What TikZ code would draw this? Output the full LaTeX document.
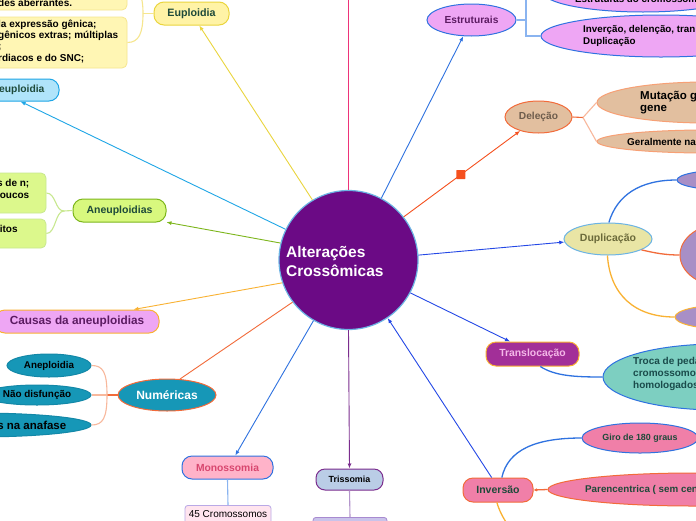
\documentclass[tikz,border=0pt]{standalone}
\usepackage{fontspec}
\setmainfont{Liberation Sans}
\usetikzlibrary{shapes.geometric,arrows.meta}
\definecolor{cPurple}{HTML}{6B0A85}
\definecolor{cCircB}{HTML}{6CB4E4}
\definecolor{cDkGreen}{HTML}{1E4A3A}
\definecolor{cYel}{HTML}{EAD53E}
\definecolor{cYelL}{HTML}{F6E68E}
\definecolor{cYelFill}{HTML}{FFF3A6}
\definecolor{cYelBox}{HTML}{FFF6B4}
\definecolor{cLBlue}{HTML}{1FA6E6}
\definecolor{cLBlueFill}{HTML}{B0E4FA}
\definecolor{cGreen}{HTML}{7DB61C}
\definecolor{cGreenL}{HTML}{C8E890}
\definecolor{cGreenFill}{HTML}{D8F87E}
\definecolor{cGreenBox}{HTML}{DCF88C}
\definecolor{cOrange}{HTML}{F9B233}
\definecolor{cViolet}{HTML}{EEA6F4}
\definecolor{cVioText}{HTML}{5C1B62}
\definecolor{cRed}{HTML}{F26B3A}
\definecolor{cRedL}{HTML}{F8B89C}
\definecolor{cTeal}{HTML}{1697B7}
\definecolor{cTealB}{HTML}{1488A8}
\definecolor{cBlue}{HTML}{2F72E0}
\definecolor{cBlue2}{HTML}{2448E6}
\definecolor{cBlueL}{HTML}{8AB4F0}
\definecolor{cMonFill}{HTML}{FFB3C9}
\definecolor{cMonText}{HTML}{D8476F}
\definecolor{cM45Fill}{HTML}{FFE4EE}
\definecolor{cM45B}{HTML}{B9A9E6}
\definecolor{cPurp}{HTML}{7B2D8E}
\definecolor{cPurpL}{HTML}{B496CC}
\definecolor{cTriFill}{HTML}{BACDE6}
\definecolor{cT2Fill}{HTML}{C9C3EA}
\definecolor{cT2B}{HTML}{A88AD0}
\definecolor{cPink}{HTML}{F07FA8}
\definecolor{cPinkLine}{HTML}{EE3379}
\definecolor{cTransFill}{HTML}{A22F98}
\definecolor{cTransText}{HTML}{F4B8E8}
\definecolor{cTealL}{HTML}{7DCFC1}
\definecolor{cTealText}{HTML}{1A4B4B}
\definecolor{cDupFill}{HTML}{E9E5A5}
\definecolor{cDupText}{HTML}{6B6A3A}
\definecolor{cLav}{HTML}{A88FC6}
\definecolor{cTan}{HTML}{E2BF9F}
\definecolor{cTanText}{HTML}{6E5D4D}
\definecolor{cTanB}{HTML}{F7A075}
\definecolor{cSq}{HTML}{F5501E}
\begin{document}
\begin{tikzpicture}[x=1pt,y=-1pt,
  fs/.style={font=\bfseries\fontsize{#1}{#1}\selectfont},
  rbox/.style={rounded corners=10pt, draw, line width=1pt, inner sep=0pt},
  ell/.style={ellipse, draw, line width=1pt, inner sep=0pt},
  conn/.style={line width=0.9pt},
  br/.style={line width=1.1pt},
  tip/.style={-{Latex[length=5pt,width=4pt]}}
]
\useasboundingbox (0,0) rectangle (696,520);
\clip (0,0) rectangle (696,520);
\fill[white] (0,0) rectangle (696,520);

% ---------- nodes ----------
\node[circle, fill=cPurple, draw=cCircB, line width=1.2pt, minimum size=139pt, inner sep=0pt] (c) at (348.5,260) {};
\node[anchor=west, text=white, inner sep=0pt, fs=15.5] (ctext1) at (286,253.5) {Alterações};
\node[anchor=west, text=white, inner sep=0pt, fs=15.5] (ctext2) at (286,270.5) {Crossômicas};

% Euploidia
\node[rbox, fill=cYelFill, draw=cYel, minimum width=75pt, minimum height=23pt, text=cDkGreen, fs=10.7] (eup) at (191.5,13.5) {Euploidia};
\node[draw=cYelL, fill=cYelBox, rounded corners=5pt, minimum width=134pt, minimum height=52pt, line width=0.8pt] (b1) at (60,-16) {};
\node[draw=cYelL, fill=cYelBox, rounded corners=5pt, minimum width=134pt, minimum height=51pt, line width=0.8pt] (b2) at (60,42.5) {};
\node[anchor=west, fs=10, inner sep=0pt] (b1t) at (-2,2.5) {des aberrantes.};
\node[anchor=north west, align=left, font=\bfseries\fontsize{10}{11.4}\selectfont, inner sep=0pt] (b2t) at (-2,19.5) {la expressão gênica;\\gênicos extras; múltiplas\\;\\rdiacos e do SNC;};

% euploidia (left)
\node[rbox, fill=cLBlueFill, draw=cLBlue, minimum width=122pt, minimum height=22pt] (eub) at (-2,90) {};
\node[anchor=west, fs=10.3, text=cDkGreen, inner sep=0pt] (eubt) at (-1,90) {euploidia};

% Aneuploidias
\node[rbox, fill=cGreenFill, draw=cGreen, minimum width=93pt, minimum height=23pt, text=cDkGreen, fs=10.5] (an) at (119.5,210.5) {Aneuploidias};
\node[draw=cGreenL, fill=cGreenBox, rounded corners=5pt, minimum width=132pt, minimum height=40pt, line width=0.8pt] (g1) at (-20,193) {};
\node[draw=cGreenL, fill=cGreenBox, rounded corners=5pt, minimum width=132pt, minimum height=29pt, line width=0.8pt] (g2) at (-20,233.5) {};
\node[anchor=east, align=right, font=\bfseries\fontsize{10}{11.5}\selectfont, inner sep=0pt] (g1t) at (29.5,189) {s de n;\\oucos};
\node[anchor=east, fs=10, inner sep=0pt] (g2t) at (17.8,228.5) {itos};

% Causas
\node[rbox, fill=cViolet, draw=cOrange, minimum width=164pt, minimum height=23pt, text=cVioText, fs=11.8] (cau) at (77,321.5) {Causas da aneuploidias};

% Numericas
\node[ell, fill=cTeal, draw=cRed, minimum width=98pt, minimum height=32pt, text=white, fs=12] (num) at (167,395) {Numéricas};
\node[ell, fill=cTeal, draw=cTealB, minimum width=84pt, minimum height=23pt, fs=9.8] (anp) at (49,365.5) {Aneploidia};
\node[ell, fill=cTeal, draw=cTealB, minimum width=108pt, minimum height=20pt, fs=9.9] (nd) at (37,395) {Não disfunção};
\node[ell, fill=cTeal, draw=cTealB, minimum width=230pt, minimum height=24pt] (na) at (-24,425) {};
\node[anchor=east, fs=11.5, inner sep=0pt] (nat) at (66.5,425) {s na anafase};

% Monossomia / Trissomia
\node[rbox, fill=cMonFill, draw=cBlue, minimum width=91pt, minimum height=23pt, text=cMonText, fs=10.3] (mon) at (227.5,467.5) {Monossomia};
\node[draw=cM45B, fill=cM45Fill, rounded corners=3pt, minimum width=86pt, minimum height=30pt, anchor=north, line width=0.8pt] (m45) at (228,505) {};
\node[font=\fontsize{10}{12}\selectfont, inner sep=0pt] (m45t) at (228,514) {45 Cromossomos};
\node[rbox, rounded corners=9pt, fill=cTriFill, draw=cPurp, minimum width=67pt, minimum height=21pt, fs=8.9] (tri) at (349.5,479.5) {Trissomia};
\node[draw=cT2B, fill=cT2Fill, rounded corners=3pt, minimum width=74pt, minimum height=20pt, anchor=north, line width=0.8pt] (t2) at (350,517) {};

% Inversao
\node[rbox, fill=cPink, draw=cRed, minimum width=70pt, minimum height=24pt, text=cDkGreen, fs=10.5] (inv) at (498,490) {Inversão};
\node[ell, fill=cPink, draw=cBlue, minimum width=116pt, minimum height=30pt, text=cDkGreen, fs=8.9] (giro) at (640,438) {Giro de 180 graus};
\node[ell, fill=cPink, draw=cRed, minimum width=290pt, minimum height=33pt] (par) at (693,489.5) {};
\node[anchor=west, fs=9.8, text=cDkGreen, inner sep=0pt] (part) at (585,490) {Parencentrica ( sem cen};

% Translocacao
\node[rbox, fill=cTransFill, draw=cOrange, minimum width=93pt, minimum height=24pt, text=cTransText, fs=10.4] (trans) at (532.5,354) {Translocação};
\node[ell, fill=cTealL, draw=cBlue, minimum width=230pt, minimum height=66pt] (teal) at (718,377) {};
\node[anchor=west, align=left, text=cTealText, font=\bfseries\fontsize{10}{12}\selectfont, inner sep=0pt] (tealt) at (633,374) {Troca de peda\\cromossomo\\homologados};

% Duplicacao
\node[ell, fill=cDupFill, draw=cCircB, minimum width=88pt, minimum height=32pt, text=cDupText, fs=10.5] (dup) at (608,239) {Duplicação};
\node[ell, fill=cLav, draw=cBlue, minimum width=100pt, minimum height=20pt] (p1) at (727,180) {};
\node[ell, fill=cLav, draw=cRed, minimum width=90pt, minimum height=64pt] (p2) at (725,255) {};
\node[ell, fill=cLav, draw=cOrange, minimum width=100pt, minimum height=24pt] (p3) at (725,317) {};

% Delecao
\node[ell, fill=cTan, draw=cRed, minimum width=67pt, minimum height=32pt, text=cTanText, fs=10.2] (del) at (538.5,117) {Deleção};
\node[ell, fill=cTan, draw=cTanB, minimum width=220pt, minimum height=41pt] (mut) at (707,102.5) {};
\node[anchor=west, align=left, font=\bfseries\fontsize{11.5}{12}\selectfont, inner sep=0pt] (mutt) at (640,103) {Mutação g\\gene};
\node[ell, fill=cTan, draw=cTanB, minimum width=220pt, minimum height=23pt] (ger) at (707,141.5) {};
\node[anchor=west, fs=9.9, inner sep=0pt] (gert) at (627,141.5) {Geralmente na};

% Estruturais
\node[ell, fill=cViolet, draw=cBlue, minimum width=89pt, minimum height=32pt, text=cVioText, fs=10.2] (est) at (471.5,20) {Estruturais};
\node[ell, fill=cViolet, draw=cBlue, minimum width=200pt, minimum height=40pt] (e1) at (643,-8) {};
\node[anchor=west, fs=9.8, inner sep=0pt] (e1t) at (575,-1) {Estruturas do cromossom};
\node[ell, fill=cViolet, draw=cBlue, minimum width=240pt, minimum height=42pt] (e2) at (661,36) {};
\node[anchor=west, align=left, font=\bfseries\fontsize{9.8}{12}\selectfont, inner sep=0pt] (e2t) at (583,36) {Inverção, delenção, tran\\Duplicação};

% ---------- coordinates ----------
\coordinate (topend) at (348.5,-2);
\coordinate (j1) at (143,13.5);
\coordinate (j2) at (64,211);
\coordinate (jn) at (107,395);
\coordinate (jd) at (583,117.5);
\coordinate (je) at (526,20);
\coordinate (je1) at (526,-8);
\coordinate (je2) at (526,36);
\coordinate (invend) at (508,525);

% ---------- main connectors ----------
\draw[conn, cYel, tip] (c.121) -- (eup.303);
\draw[conn, cLBlue, tip] (c.154) -- (eub.333);
\draw[conn, cGreen, tip] (c.166) -- (an.346);
\draw[conn, cOrange, tip] (c.199) -- (cau.12);
\draw[conn, cRed] (c.217) -- (num.51);
\draw[conn, cBlue, tip] (c.240) -- (mon.57);
\draw[conn, cPurp, tip] (c.270) -- (tri.north);
\draw[conn, cBlue2, tip] (inv.117) -- (c.304);
\draw[conn, cBlue2, tip] (c.332) -- (trans.151);
\draw[conn, cBlue2, tip] (c.4) -- (dup.184);
\draw[conn, cSq, tip] (c.38) -- (del.217) node[pos=0.49, fill=cSq, minimum size=9pt, inner sep=0pt, rounded corners=0.5pt] (sq) {};
\draw[conn, cBlue, tip] (c.62) -- (est.243);
\draw[line width=1.2pt, cPinkLine] (c.90) -- (topend);

% ---------- branches ----------
\draw[br, cYelL] (eup.west) -- (j1);
\draw[br, cYelL] (j1) .. controls (143,-4) and (139,-16) .. (b1.east);
\draw[br, cYelL] (j1) .. controls (143,33) and (139,42.5) .. (b2.east);

\draw[br, cGreenL] (an.west) -- (j2);
\draw[br, cGreenL] (j2) .. controls (55,211) and (56,193) .. (g1.east);
\draw[br, cGreenL] (j2) .. controls (55,211) and (56,233.5) .. (g2.east);

\draw[br, cRed] (num.west) -- (jn);
\draw[br, cRedL] (jn) .. controls (107,372) and (103,365.5) .. (anp.east);
\draw[br, cRedL] (jn) -- (nd.east);
\draw[br, cRedL] (jn) .. controls (107,418) and (103,425) .. (na.east);

\draw[br, cRed] (del.east) -- (jd);
\draw[br, cRedL] (jd) -- (mut.west);
\draw[br, cRedL] (jd) -- (ger.west);

\draw[br, cBlueL] (est.east) -- (je);
\draw[br, cBlueL] (je) -- (je1) -- (e1.west);
\draw[br, cBlueL] (je) -- (je2) -- (e2.west);

\draw[line width=1.3pt, cBlue] (dup.87) .. controls (617,195) and (640,180) .. (p1.west);
\draw[line width=1.3pt, cRed] (dup.342) .. controls (655,253) and (665,255) .. (p2.west);
\draw[line width=1.3pt, cOrange] (dup.268) .. controls (610,295) and (635,317) .. (p3.west);

\draw[line width=1.3pt, cBlue] (trans.302) .. controls (555,376) and (575,377) .. (teal.west);

\draw[line width=1.3pt, cBlue] (inv.73) .. controls (508,450) and (535,438) .. (giro.west);
\draw[line width=1.3pt, cRed, -{Latex[length=3.5pt,width=3.5pt]}] (par.west) -- (inv.east);
\draw[line width=1.3pt, cOrange] (inv.265) .. controls (499,510) and (503,518) .. (invend);

\draw[br, cBlueL] (mon.south) -- (m45.north);
\draw[br, cPurpL] (tri.south) -- (t2.north);
\end{tikzpicture}
\end{document}
